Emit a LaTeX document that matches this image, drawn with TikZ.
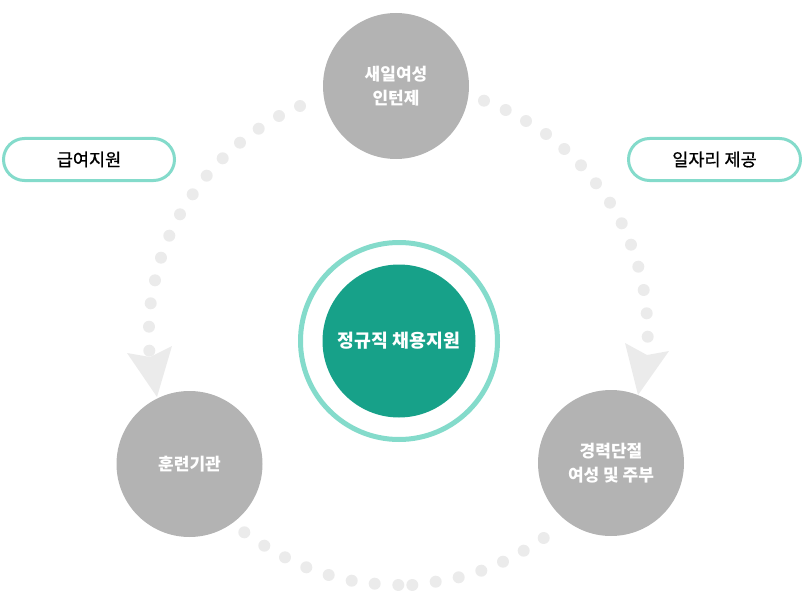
\documentclass[tikz,border=0pt]{standalone}
\usepackage{fontspec}
\setmainfont{Noto Sans CJK KR}
\newfontfamily\medfont[FakeBold=0.8]{Noto Sans CJK KR}
\definecolor{circgray}{HTML}{B3B3B3}
\definecolor{dotgray}{HTML}{EBEBEB}
\definecolor{ringteal}{HTML}{84DBCB}
\definecolor{coreteal}{HTML}{17A189}
\begin{document}
\begin{tikzpicture}[x=1pt,y=-1pt,
  graycirc/.style={circle, fill=circgray, minimum size=146pt, inner sep=0pt, text=white,
    font=\fontsize{17}{24}\selectfont\bfseries, align=center},
  pillbox/.style={draw=ringteal, line width=3pt, rounded corners=21pt, minimum height=42pt,
    inner sep=0pt, text=black, font=\medfont\fontsize{17.5}{18}\selectfont},
  dotc/.style={fill=dotgray, draw=none},
  arrowhead/.style={fill=dotgray, draw=none}]
\useasboundingbox (0,0) rectangle (803,591);

% dotted arcs
\foreach \p in {(300,106),(279,116),(258.7,128.7),(240,142.7),(222.7,158.3),(206.7,175.7),(192.7,194.3),(180,214.3),(169.3,235.7),(161,257.7),(155,280.3),(150.7,303.3),(149,326.7),(149.3,350.7)}
  \fill[dotc] \p circle (6);
\foreach \p in {(484,100.7),(505.7,110),(526,121),(546,134),(564.3,149),(581,165.3),(596,183.3),(610,202.7),(621.7,223.3),(631,244.7),(638.3,266.7),(643.7,290),(646.7,313.3),(647.7,336.7)}
  \fill[dotc] \p circle (6);
\foreach \p in {(244.3,532.3),(264.3,545.7),(285,557.3),(306.3,567.3),(328.7,575),(351.7,580.7),(374.7,583.7),(398.3,585),(412.3,585),(435.7,581.7),(458.7,577.3),(481.3,570.7),(503,561.7),(523.7,550.7),(543.7,538)}
  \fill[dotc] \p circle (6);

% arrowheads
\coordinate (tipL) at (157,397);
\coordinate (tipR) at (638,395);
\fill[arrowhead] (127,353) -- (150,357) -- (172,346) -- (tipL) -- cycle;
\fill[arrowhead] (625,343) -- (647,355) -- (669,351) -- (tipR) -- cycle;

% gray circles
\node[graycirc] (top) at (396,86) {새일여성\\인턴제};
\node[graycirc] (left) at (189.5,464) {훈련기관};
\node[graycirc] (right) at (611,463) {경력단절\\여성 및 주부};

% center
\node[circle, draw=ringteal, line width=5pt, minimum size=197pt, inner sep=0pt] (ring) at (399,341) {};
\node[circle, fill=coreteal, minimum size=153pt, inner sep=0pt, text=white,
  font=\fontsize{18.3}{20}\selectfont\bfseries] (core) at (399,341) {정규직 채용지원};

% pills
\node[pillbox, minimum width=171pt] (pillL) at (89,159.5) {급여지원};
\node[pillbox, minimum width=172pt] (pillR) at (714.5,159.5) {일자리 제공};
\end{tikzpicture}
\end{document}
